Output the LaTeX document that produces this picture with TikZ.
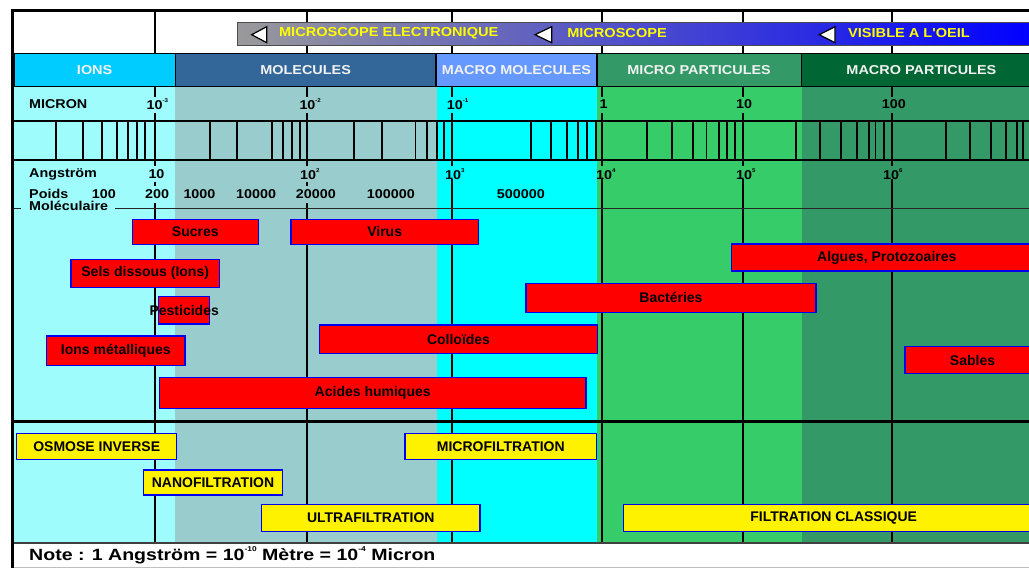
\documentclass[tikz,border=0pt]{standalone}
\usepackage{fontspec}
\setmainfont{Liberation Sans}
\newfontfamily\widefont{Liberation Sans}[FakeStretch=1.12]
\newfontfamily\notefont{Liberation Sans}[FakeStretch=1.2]
\definecolor{ionsband}{HTML}{00CCFF}
\definecolor{molband}{HTML}{336699}
\definecolor{macromolband}{HTML}{6699FF}
\definecolor{microband}{HTML}{339966}
\definecolor{macroband}{HTML}{006633}
\definecolor{colA}{HTML}{9FFCFC}
\definecolor{colB}{HTML}{99CCCC}
\definecolor{colC}{HTML}{00FFFF}
\definecolor{colD}{HTML}{36CC6A}
\definecolor{colE}{HTML}{339966}
\definecolor{barleft}{HTML}{9A9A9A}
\definecolor{barright}{HTML}{0000FF}
\definecolor{boxblue}{HTML}{0000EE}
\definecolor{txtyellow}{HTML}{FFFF00}
\definecolor{bandtext}{HTML}{F2F2F2}
\newcommand\ex[1]{\raisebox{0.55em}{\fontsize{5.5}{5.5}\selectfont #1}}
\newcommand\exn[1]{\raisebox{0.55em}{\fontsize{7}{7}\selectfont #1}}
\begin{document}
\begin{tikzpicture}[x=1pt,y=-1pt,
  band/.style={draw=black, line width=1.2pt, inner sep=0pt, anchor=north west,
    font=\widefont\bfseries\fontsize{12.9}{14}\selectfont, text=bandtext},
  redbox/.style={draw=boxblue, line width=1.5pt, fill=red, inner sep=0pt,
    font=\bfseries\fontsize{14}{16}\selectfont},
  yelbox/.style={draw=boxblue, line width=1.5pt, fill=yellow, inner sep=0pt,
    font=\bfseries\fontsize{14}{16}\selectfont},
  scalelab/.style={font=\widefont\bfseries\fontsize{12.8}{14}\selectfont, inner sep=0pt, anchor=west},
  bartext/.style={font=\widefont\bfseries\fontsize{13}{14}\selectfont, text=txtyellow, inner sep=0pt},
  major/.style={line width=1.7pt, black},
  minortick/.style={line width=1.8pt, black},
  arrowtri/.style={fill=white, draw=black, line width=1.2pt, line join=miter}]
\useasboundingbox (0,0) rectangle (1029,568);
\fill[white] (0,0) rectangle (1029,568);

% background columns
\fill[colA] (12,86) rectangle (175.3,542.5);
\fill[colB] (175.3,86) rectangle (436.5,542.5);
\fill[colC] (436.5,86) rectangle (597,542.5);
\fill[colD] (597,86) rectangle (801.5,542.5);
\fill[colE] (801.5,86) rectangle (1029,542.5);

% header vertical lines
\foreach \x in {155,307.3,451.7,601.7,742.7,891.7}
  \draw[major] (\x,10.5) -- (\x,52.7);

% microscope bar
\shade[left color=barleft, right color=barright, draw=black!70, line width=0.8pt]
  (237,22.5) rectangle (1035,45);
\draw[arrowtri] (251.7,34.7) -- (266.7,26.7) -- (266.7,42.7) -- cycle;
\draw[arrowtri] (535,34.7) -- (551.7,26.7) -- (551.7,42.7) -- cycle;
\draw[arrowtri] (819.3,34.7) -- (835,26.7) -- (835,42.7) -- cycle;
\node[bartext] (me) at (388.7,33.5) {MICROSCOPE ELECTRONIQUE};
\node[bartext] (mo) at (617,33.5) {MICROSCOPE};
\node[bartext] (vo) at (909,33.5) {VISIBLE A L'OEIL};

% category bands
\node[band, fill=ionsband, minimum width=161.5, minimum height=33.3] (ions) at (13.3,52.7) {IONS};
\node[band, fill=molband, minimum width=260.5, minimum height=33.3] (mol) at (174.8,52.7) {MOLECULES};
\node[band, fill=macromolband, minimum width=161, minimum height=33.3] (mmol) at (435.3,52.7) {MACRO MOLECULES};
\node[band, fill=microband, minimum width=204.5, minimum height=33.3] (mpart) at (596.3,52.7) {MICRO PARTICULES};
\node[band, fill=macroband, minimum width=240, minimum height=33.3] (mapart) at (800.8,52.7) {MACRO PARTICULES};

% scale bar
\draw[line width=2pt] (12,120.5) -- (1029,120.5);
\draw[line width=2pt] (12,159.5) -- (1029,159.5);
\foreach \x in {56,82.7,102.3,116.7,128.3,136.7,145,
  210,237.3,271.7,283.3,291.7,300,
  354,381.7,415.5,427,436.7,444,
  530.7,550.7,566.7,578.3,587.3,596,
  646.7,672.3,692.7,706.5,718.8,727,734.7,
  796,820.3,841,856.7,868.8,875.5,883.7,
  946,970.3,990.8,1005.7,1017,1023.3}
  \draw[minortick] (\x,120.5) -- (\x,159.5);
\foreach \x in {155,307.3,451.7,601.7,742.7,891.7}{
  \draw[major] (\x,87) -- (\x,97);
  \draw[major] (\x,113) -- (\x,166);
}
\foreach \x in {155,307.3}{
  \draw[major] (\x,181.5) -- (\x,185.5);
  \draw[major] (\x,203) -- (\x,542.5);
}
\foreach \x in {451.7,601.7,742.7,891.7}
  \draw[major] (\x,179) -- (\x,542.5);

% horizontal lines
\draw[line width=1.2pt, black!85] (12,208.3) -- (21,208.3);
\draw[line width=1.2pt, black!85] (115,208.3) -- (1029,208.3);
\draw[line width=2.5pt] (12,421.5) -- (1029,421.5);
\draw[line width=1.5pt, black!75] (12,542.8) -- (1029,542.8);
\draw[line width=1pt, black!25] (12,567) -- (1029,567);

% outer frame
\draw[line width=2.5pt] (10.5,10.5) -- (1029,10.5);
\draw[line width=3pt] (12,9.3) -- (12,568);

% MICRON row
\node[scalelab] (micron) at (29,104.5) {MICRON};
\node[scalelab] (m1) at (146.5,104.5) {10\ex{-3}};
\node[scalelab] (m2) at (299.3,104.5) {10\ex{-2}};
\node[scalelab] (m3) at (446.7,104.5) {10\ex{-1}};
\node[scalelab] (m4) at (599.3,104.5) {1};
\node[scalelab] (m5) at (736,104.5) {10};
\node[scalelab] (m6) at (881.7,104.5) {100};

% Angstrom row
\node[scalelab] (ang) at (29,174.5) {Angström};
\node[scalelab] (a1) at (148.3,174.5) {10};
\node[scalelab] (a2) at (300,174.5) {10\ex{2}};
\node[scalelab] (a3) at (445,174.5) {10\ex{3}};
\node[scalelab] (a4) at (596,174.5) {10\ex{4}};
\node[scalelab] (a5) at (736,174.5) {10\ex{5}};
\node[scalelab] (a6) at (883,174.5) {10\ex{6}};

% Poids moleculaire row
\node[scalelab] (poids) at (29,193.5) {Poids};
\node[scalelab] (p1) at (91.7,194.5) {100};
\node[scalelab] (p2) at (145,194.5) {200};
\node[scalelab] (p3) at (183.3,194.5) {1000};
\node[scalelab] (p4) at (236,194.5) {10000};
\node[scalelab] (p5) at (295.7,194.5) {20000};
\node[scalelab] (p6) at (366.7,194.5) {100000};
\node[scalelab] (p7) at (496.7,194.5) {500000};
\node[scalelab] (molec) at (29,206) {Moléculaire};

% contaminants
\node[redbox, minimum width=126, minimum height=25] (sucres) at (195.3,231.8) {Sucres};
\node[redbox, minimum width=187.3, minimum height=25] (virus) at (384.7,231.8) {Virus};
\node[redbox, minimum width=148.3, minimum height=28] (sels) at (145.2,273.3) {Sels dissous (Ions)};
\node[redbox, minimum width=50.6, minimum height=27.3] (pestbox) at (184,310.3) {};
\node[font=\bfseries\fontsize{14}{16}\selectfont, inner sep=0pt] (pest) at (184.2,310.5) {Pesticides};
\node[redbox, minimum width=138.3, minimum height=29.7] (ionsmet) at (115.8,350.8) {Ions métalliques};
\node[redbox, minimum width=278.4, minimum height=28.3] (coll) at (458.5,339.2) {Colloïdes};
\node[redbox, minimum width=426.7, minimum height=31] (acides) at (372.7,393.2) {Acides humiques};
\node[redbox, minimum width=310.3, minimum height=27] (algues) at (886.8,257.5) {Algues, Protozoaires};
\node[redbox, minimum width=290, minimum height=29] (bact) at (671,297.8) {Bactéries};
\node[redbox, minimum width=135, minimum height=26.7] (sables) at (972.5,360) {Sables};

% filtration
\node[yelbox, minimum width=160, minimum height=26] (osm) at (96.7,446.3) {OSMOSE INVERSE};
\node[yelbox, minimum width=191.7, minimum height=26] (mf) at (500.8,446.3) {MICROFILTRATION};
\node[yelbox, minimum width=139.4, minimum height=25] (nf) at (213,482.5) {NANOFILTRATION};
\node[yelbox, minimum width=218.3, minimum height=27.4] (uf) at (370.8,518) {ULTRAFILTRATION};
\node[yelbox, minimum width=420.7, minimum height=27.4] (fc) at (833.7,518) {FILTRATION CLASSIQUE};

% note
\node[anchor=west, font=\notefont\bfseries\fontsize{16.3}{18}\selectfont, inner sep=0pt] (note)
  at (29,555.5) {Note : 1 Angström = 10\exn{-10} Mètre = 10\exn{-4} Micron};
\end{tikzpicture}
\end{document}
